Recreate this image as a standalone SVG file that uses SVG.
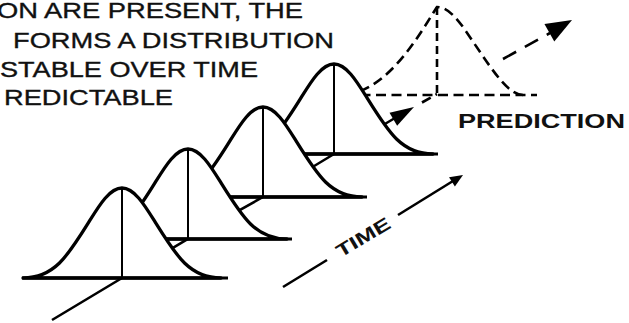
<svg xmlns="http://www.w3.org/2000/svg" xmlns:xlink="http://www.w3.org/1999/xlink" width="629" height="323" viewBox="0 0 629 323">
<style>
.curve{fill:#fff;stroke:#000;stroke-width:3.3;stroke-linejoin:round}
.base{stroke:#000;stroke-width:2.8}
.mid{stroke:#000;stroke-width:2}
.axis{fill:none;stroke:#000;stroke-width:2.6}
.dash{fill:none;stroke:#000;stroke-width:2.6;stroke-dasharray:10 5.5}
.head{fill:#000}
.cap{font-family:"Liberation Sans",Arial,sans-serif;font-size:22px;fill:#111;stroke:#111;stroke-width:0.35}
.lbl{font-family:"Liberation Sans",Arial,sans-serif;font-weight:bold;fill:#111}
</style>
<defs>
<path id="bell" d="M-99,0 C-68,0 -54.4,-21.8 -34,-54.6 C-23.1,-72.1 -12.6,-90 0,-90 C12.6,-90 23.1,-72.1 34,-54.6 C54.4,-21.8 68,0 99,0 Z"/>
<path id="head" d="M0,0 L-1,-0.5 L-1,0.5 Z"/>
</defs>
<rect width="629" height="323" fill="#fff"/>
<g id="caption">
<text class="cap" x="-3" y="18" textLength="306" lengthAdjust="spacingAndGlyphs">ON ARE PRESENT, THE</text>
<text class="cap" x="13" y="48" textLength="321" lengthAdjust="spacingAndGlyphs">FORMS A DISTRIBUTION</text>
<text class="cap" x="0" y="77" textLength="258" lengthAdjust="spacingAndGlyphs">STABLE OVER TIME</text>
<text class="cap" x="4" y="105" textLength="169" lengthAdjust="spacingAndGlyphs">REDICTABLE</text>
</g>
<g id="prediction">
<path class="dash" d="M345,95 C390,90 422,30 437,7 C450.3,7 461.5,24.5 473,41.6 C494.6,73.7 509,95 523,95"/>
<line class="dash" x1="437" y1="7" x2="437" y2="95" style="stroke-dasharray:8 5"/>
<line class="dash" x1="345" y1="95" x2="537" y2="95"/>
<text class="lbl" x="458" y="128" font-size="21" textLength="167" lengthAdjust="spacingAndGlyphs">PREDICTION</text>
</g>
<g id="connectors">
<polyline class="axis" points="52,320 122,278 188,239 263,197 334,154 395,118"/>
<use xlink:href="#head" class="head" transform="translate(414,107) rotate(-30.5) scale(24,15)"/>
<line class="dash" x1="422" y1="102.5" x2="437" y2="94"/>
<line class="dash" x1="503" y1="59" x2="550" y2="33" style="stroke-dasharray:15 10"/>
<use xlink:href="#head" class="head" transform="translate(572,20) rotate(-29.5) scale(26,20)"/>
<line class="axis" x1="283" y1="287" x2="327" y2="260"/>
<line class="axis" x1="398" y1="215" x2="453" y2="181"/>
<use xlink:href="#head" class="head" transform="translate(463,175) rotate(-32) scale(13,11)"/>
<text class="lbl" transform="translate(363,237) rotate(-31)" x="0" y="6.5" text-anchor="middle" font-size="18" textLength="60" lengthAdjust="spacingAndGlyphs">TIME</text>
</g>
<g id="dist4" transform="translate(334,154)">
<use xlink:href="#bell" class="curve"/>
<line class="base" x1="-100" y1="0" x2="104" y2="0"/>
<line class="mid" x1="0" y1="-90" x2="0" y2="0"/>
</g>
<g id="dist3" transform="translate(263,197)">
<use xlink:href="#bell" class="curve"/>
<line class="base" x1="-100" y1="0" x2="104" y2="0"/>
<line class="mid" x1="0" y1="-90" x2="0" y2="0"/>
</g>
<g id="dist2" transform="translate(188,239)">
<use xlink:href="#bell" class="curve"/>
<line class="base" x1="-100" y1="0" x2="104" y2="0"/>
<line class="mid" x1="0" y1="-90" x2="0" y2="0"/>
</g>
<g id="dist1" transform="translate(122,278)">
<use xlink:href="#bell" class="curve"/>
<line class="base" x1="-100" y1="0" x2="106" y2="0"/>
<line class="mid" x1="0" y1="-90" x2="0" y2="0"/>
</g>
</svg>
